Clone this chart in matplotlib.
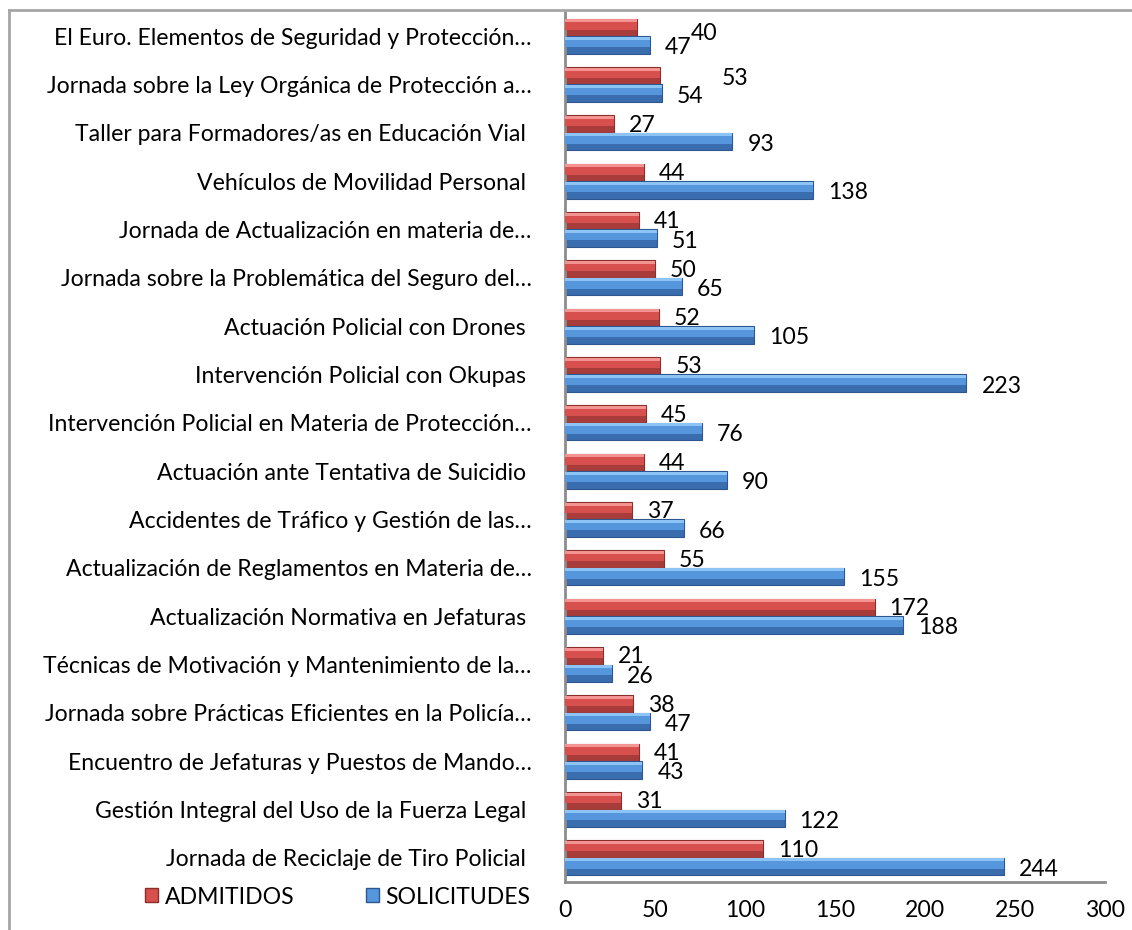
import matplotlib
matplotlib.use("Agg")
import matplotlib.pyplot as plt
import numpy as np
from matplotlib.patches import Patch
from matplotlib.lines import Line2D

plt.rcParams['font.family'] = ['Lato', 'DejaVu Sans']

# data, listed top to bottom as in the chart
cursos = [
  "El Euro. Elementos de Seguridad y Protección…",
  "Jornada sobre la Ley Orgánica de Protección a…",
  "Taller para Formadores/as en Educación Vial ",
  "Vehículos de Movilidad Personal ",
  "Jornada de Actualización en materia de…",
  "Jornada sobre la Problemática del Seguro del…",
  "Actuación Policial con Drones ",
  "Intervención Policial con Okupas ",
  "Intervención Policial en Materia de Protección…",
  "Actuación ante Tentativa de Suicidio ",
  "Accidentes de Tráfico y Gestión de las…",
  "Actualización de Reglamentos en Materia de…",
  "Actualización Normativa en Jefaturas ",
  "Técnicas de Motivación y Mantenimiento de la…",
  "Jornada sobre Prácticas Eficientes en la Policía…",
  "Encuentro de Jefaturas y Puestos de Mando…",
  "Gestión Integral del Uso de la Fuerza Legal ",
  "Jornada de Reciclaje de Tiro Policial ",
]
admitidos = [40, 53, 27, 44, 41, 50, 52, 53, 45, 44, 37, 55, 172, 21, 38, 41, 31, 110]
solicitudes = [47, 54, 93, 138, 51, 65, 105, 223, 76, 90, 66, 155, 188, 26, 47, 43, 122, 244]
x_ticks = [0, 50, 100, 150, 200, 250, 300]

# plot bottom-up
cursos = cursos[::-1]
admitidos = admitidos[::-1]
solicitudes = solicitudes[::-1]

FS = 16.6

# red/blue with a light top, mid band and dark lower half
RED = dict(dark='#A83C3A', mid='#D8504D', light='#F49492', edge='#8A2E2C')
BLUE = dict(dark='#3A6DAE', mid='#5596DC', light='#8CC4F5', edge='#2C5790')

fig = plt.figure(figsize=(11.32, 9.30), dpi=100)
ax = fig.add_axes([565 / 1132, 1 - 882 / 930, 540 / 1132, 870 / 930])

y = np.arange(len(cursos))
h = 0.36


def bevel_bars(yc, vals, c):
  ax.barh(yc, vals, height=h, color=c['dark'], edgecolor=c['edge'], linewidth=0.8, zorder=2)
  ax.barh(yc + h * 0.12, vals, height=h * 0.5, color=c['mid'], linewidth=0, zorder=3)
  ax.barh(yc + h * 0.38, vals, height=h * 0.18, color=c['light'], linewidth=0, zorder=4)


bevel_bars(y + h / 2, admitidos, RED)
bevel_bars(y - h / 2, solicitudes, BLUE)

# value labels; a couple were nudged by hand in the original
extra_red = {17: (39, -5), 16: (46, -2)}
for i in range(len(cursos)):
  dx, dy = extra_red.get(i, (0, 0))
  ax.annotate(str(admitidos[i]), (admitidos[i], y[i] + h / 2), xytext=(15 + dx, -1 + dy),
              textcoords='offset pixels', va='center', ha='left', fontsize=FS)
  ax.annotate(str(solicitudes[i]), (solicitudes[i], y[i] - h / 2), xytext=(15, -3),
              textcoords='offset pixels', va='center', ha='left', fontsize=FS)

ax.set_xlim(0, 300)
ax.set_ylim(-0.5, len(cursos) - 0.5)
ax.set_xticks(x_ticks)
ax.set_yticks(y)
ax.set_yticklabels(cursos, fontsize=FS)
ax.tick_params(axis='x', length=0, pad=13, labelsize=FS)
ax.tick_params(axis='y', length=0, pad=24)
for s in ['top', 'right']:
  ax.spines[s].set_visible(False)
for s in ['left', 'bottom']:
  ax.spines[s].set_color('#8C8C8C')
  ax.spines[s].set_linewidth(2)

handles = [Patch(facecolor=RED['mid'], edgecolor=RED['edge']),
           Patch(facecolor=BLUE['mid'], edgecolor=BLUE['edge'])]
fig.legend(handles, ['ADMITIDOS', 'SOLICITUDES'], ncol=2, frameon=False,
           loc='center left', bbox_to_anchor=(136 / 1132, 1 - 897 / 930),
           fontsize=FS, handlelength=0.55, handleheight=0.55, handletextpad=0.3,
           columnspacing=3.1, borderaxespad=0)

# outer frame (only top and left edges are in view)
fig.add_artist(Line2D([9 / 1132, 9 / 1132], [0, 1 - 10 / 930], color='#A6A6A6', lw=2,
                      transform=fig.transFigure))
fig.add_artist(Line2D([9 / 1132, 1], [1 - 10 / 930, 1 - 10 / 930], color='#A6A6A6', lw=2,
                      transform=fig.transFigure))

fig.savefig('out.png', dpi=100)
